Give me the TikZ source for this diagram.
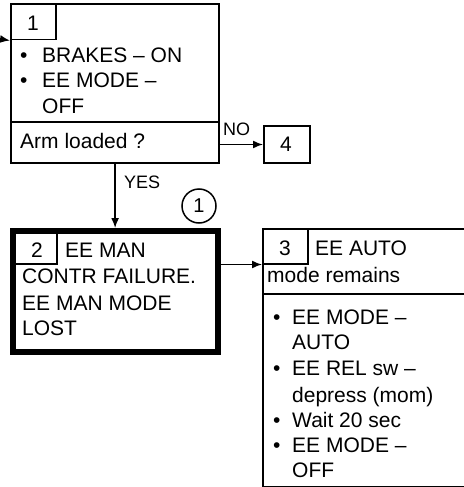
\documentclass[tikz,border=0pt]{standalone}
\usepackage{fontspec}
\setmainfont{Liberation Sans}
\usetikzlibrary{arrows.meta}
\begin{document}
\begin{tikzpicture}[x=1pt,y=-1pt,
  every node/.style={inner sep=0pt},
  txt/.style={anchor=base west, font=\fontsize{21}{25}\selectfont},
  ctxt/.style={anchor=base, font=\fontsize{21}{25}\selectfont},
  lbl/.style={anchor=base west, font=\fontsize{18}{21}\selectfont},
  frame/.style={draw, line width=2.2pt, anchor=north west},
  thick frame/.style={draw, line width=5.5pt, anchor=north west},
  subbox/.style={draw, line width=1.5pt, anchor=north west},
  arr/.style={-{Latex[length=10pt,width=8pt]}, line width=1.5pt}]
\useasboundingbox (0,0) rectangle (463,487);

% box 1
\node[frame, minimum width=208pt, minimum height=159pt] (b1) at (10,3) {};
\node[subbox, minimum width=45pt, minimum height=36pt] (s1) at (10,3) {};
\node[ctxt] (n1) at (33,31) {1};
\node[txt] (b1a) at (20,63) {•};
\node[txt] (b1b) at (42,63) {BRAKES – ON};
\node[txt] (b1c) at (20,88) {•};
\node[txt] (b1d) at (42,88) {EE MODE –};
\node[txt] (b1e) at (42,113) {OFF};
\draw[line width=2.2pt] (b1.west |- 0,122) coordinate (d1l) -- (b1.east |- 0,122) coordinate (d1r);
\node[txt] (q1) at (20,148) {Arm loaded ?};

% box 4
\node[frame, line width=2pt, minimum width=46pt, minimum height=37pt] (b4) at (263,125) {};
\node[ctxt] (n4) at (286,151) {4};

% box 2
\node[thick frame, minimum width=205pt, minimum height=121pt] (b2) at (10,228) {};
\node[subbox, minimum width=46pt, minimum height=35pt] (s2) at (10,228) {};
\node[ctxt] (n2) at (37,257) {2};
\node[txt] (b2a) at (65,257) {EE MAN};
\node[txt] (b2b) at (22,283) {CONTR FAILURE.};
\node[txt] (b2c) at (22,310) {EE MAN MODE};
\node[txt] (b2d) at (22,335) {LOST};

% circle
\node[draw, circle, line width=1.5pt, minimum size=34pt, font=\fontsize{20}{24}\selectfont] (c1) at (199,206) {1};

% box 3 (right edge lies beyond the picture)
\node[frame, minimum width=220pt, minimum height=258pt] (b3) at (262,228) {};
\node[subbox, minimum width=45pt, minimum height=35pt] (s3) at (262,228) {};
\node[ctxt] (n3) at (285,255) {3};
\node[txt] (b3a) at (315,255) {EE AUTO};
\node[txt] (b3b) at (267,282) {mode remains};
\draw[line width=2.2pt] (b3.west |- 0,294) coordinate (d3l) -- (b3.east |- 0,294) coordinate (d3r);
\node[txt] (u1) at (273,324) {•};
\node[txt] (t1) at (292,324) {EE MODE –};
\node[txt] (t2) at (292,349) {AUTO};
\node[txt] (u2) at (273,375) {•};
\node[txt] (t3) at (292,375) {EE REL sw –};
\node[txt] (t4) at (292,402) {depress (mom)};
\node[txt] (u3) at (273,427) {•};
\node[txt] (t5) at (292,427) {Wait 20 sec};
\node[txt] (u4) at (273,452) {•};
\node[txt] (t6) at (292,452) {EE MODE –};
\node[txt] (t7) at (292,477) {OFF};

% connectors
\coordinate (in) at (0,39);
\draw[arr] (in) -- (b1.west |- s1.south);
\draw[arr] (b1.south) -- (b1.south |- b2.north);
\node[lbl] (yes) at (124,188) {YES};
\draw[arr] (b1.east |- b4.west) -- (b4.west);
\node[lbl] (no) at (223,135) {NO};
\draw[arr] (b2.east |- s2.south) -- (b3.west |- s2.south);
\end{tikzpicture}
\end{document}
